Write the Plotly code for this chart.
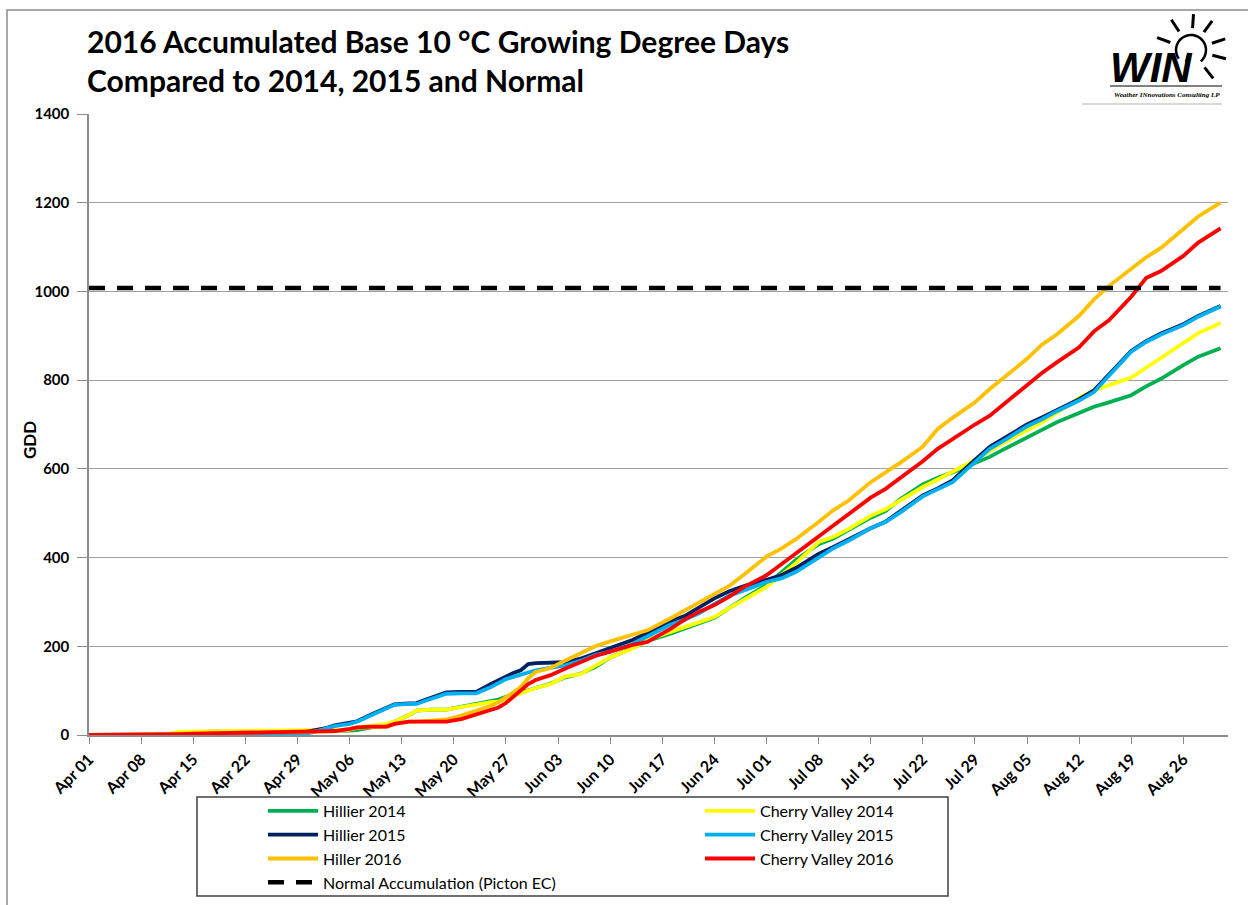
import math
import pandas as pd
import plotly.graph_objects as go

# ---------------- data ----------------
START = "2016-04-01"
END = "2016-09-01"

# days after Apr 01 at which the curves were read
day_offset = [0, 10, 12, 14, 17, 20, 24, 28,
              30, 32, 33, 35, 36, 38, 40, 41, 43, 44,
              45, 46, 48, 50, 52, 54, 55, 56, 57, 58,
              59, 60, 62, 64, 66, 68, 70, 73, 75, 78,
              80, 82, 84, 86, 88, 91, 93, 95, 98, 100,
              102, 105, 107, 109, 112, 114, 116, 119, 121, 123,
              126, 128, 130, 133, 135, 137, 140, 142, 144, 147,
              149, 152]

hillier_2014 = [0, 0, 5, 7, 8, 8, 8, 9,
                9, 9, 9, 10, 11, 18, 24, 30, 45, 55,
                57, 57, 57, 64, 71, 78, 80, 86, 92, 96,
                101, 106, 116, 130, 138, 153, 175, 196, 212, 228,
                240, 252, 264, 286, 308, 338, 367, 395, 430, 443,
                462, 490, 505, 532, 565, 580, 592, 612, 627, 645,
                672, 688, 705, 726, 740, 750, 766, 786, 803, 834,
                853, 872]

cherry_valley_2014 = [0, 0, 7, 8, 8, 9, 10, 10,
                      10, 10, 10, 12, 17, 22, 25, 30, 45, 55,
                      57, 57, 57, 63, 70, 74, 75, 80, 88, 94,
                      100, 106, 115, 132, 137, 155, 175, 195, 214, 232,
                      244, 254, 266, 286, 305, 334, 360, 388, 435, 447,
                      464, 494, 509, 530, 559, 576, 593, 620, 640, 660,
                      687, 705, 726, 760, 777, 788, 806, 828, 851, 883,
                      906, 929]

hillier_2015 = [0, 0, 0, 0, 0, 0, 0, 2,
                10, 16, 22, 27, 31, 47, 62, 69, 71, 72,
                78, 84, 96, 97, 97, 115, 124, 133, 140, 146,
                160, 162, 162, 164, 172, 184, 195, 214, 230, 256,
                268, 288, 308, 324, 336, 350, 360, 377, 408, 424,
                441, 466, 481, 504, 540, 556, 574, 620, 650, 670,
                700, 716, 733, 757, 777, 812, 866, 888, 905, 926,
                945, 967]

cherry_valley_2015 = [0, 0, 0, 0, 0, 0, 0, 0,
                      6, 16, 20, 25, 30, 45, 60, 68, 70, 70,
                      76, 82, 93, 94, 94, 108, 117, 126, 131, 135,
                      141, 146, 152, 157, 167, 180, 188, 205, 222, 248,
                      260, 275, 295, 314, 326, 345, 353, 368, 400, 421,
                      438, 466, 480, 502, 538, 553, 570, 615, 645, 665,
                      696, 712, 730, 754, 773, 810, 864, 886, 903, 924,
                      943, 966]

hiller_2016 = [0, 0, 1, 2, 4, 6, 7, 7,
               7, 8, 8, 12, 16, 18, 19, 25, 30, 30,
               31, 32, 35, 44, 54, 66, 74, 84, 96, 108,
               128, 142, 151, 168, 184, 200, 211, 226, 236, 262,
               280, 300, 316, 336, 362, 402, 420, 442, 480, 507,
               528, 570, 592, 614, 650, 690, 715, 750, 780, 808,
               848, 880, 903, 945, 982, 1012, 1052, 1077, 1098, 1139,
               1169, 1200]

cherry_valley_2016 = [0, 0, 2, 3, 4, 5, 7, 8,
                      8, 8, 9, 14, 17, 19, 19, 25, 30, 30,
                      30, 30, 30, 36, 46, 57, 62, 72, 86, 102,
                      115, 124, 135, 150, 165, 178, 188, 203, 210, 238,
                      260, 278, 293, 312, 334, 360, 385, 410, 450, 473,
                      498, 535, 555, 580, 617, 645, 668, 700, 720, 748,
                      788, 816, 840, 874, 910, 935, 988, 1030, 1046, 1080,
                      1110, 1142]

normal_day_offset = [0, 152]
normal_gdd = [1008, 1008]

series_names = ["Hillier 2014", "Cherry Valley 2014", "Hillier 2015",
                "Cherry Valley 2015", "Hiller 2016", "Cherry Valley 2016"]
series_values = [hillier_2014, cherry_valley_2014, hillier_2015,
                 cherry_valley_2015, hiller_2016, cherry_valley_2016]
series_colors = ["#00B050", "#FFFF00", "#002060", "#00B0F0", "#FFC000", "#FF0000"]

for v in series_values:
    assert len(v) == len(day_offset)

dates = pd.Timestamp(START) + pd.to_timedelta(day_offset, unit="D")
normal_dates = pd.Timestamp(START) + pd.to_timedelta(normal_day_offset, unit="D")

# ---------------- geometry ----------------
W, H = 1248, 905
L, R, T, B = 89, 20, 114, 170
PW, PH = W - L - R, H - T - B


def px(x):
    return (x - L) / PW


def py(y):
    return (H - B - y) / PH


FONT = "Lato"
GRAY = "#8C8C8C"

fig = go.Figure()
for name, vals, col in zip(series_names, series_values, series_colors):
    fig.add_trace(go.Scatter(x=dates, y=vals, name=name, mode="lines",
                             line=dict(color=col, width=3.8)))
fig.add_trace(go.Scatter(x=normal_dates, y=normal_gdd,
                         name="Normal Accumulation (Picton EC)", mode="lines",
                         line=dict(color="black", width=4.5, dash="16px,12px")))

shapes = []
# outer chart border
shapes.append(dict(type="rect", xref="paper", yref="paper",
                   x0=px(7), x1=px(1262), y0=py(10), y1=py(920),
                   line=dict(color=GRAY, width=1.5), fillcolor="rgba(0,0,0,0)", layer="below"))
# legend frame
shapes.append(dict(type="rect", xref="paper", yref="paper",
                   x0=px(197), x1=px(948), y0=py(797), y1=py(896),
                   line=dict(color="#404040", width=1.5), fillcolor="rgba(0,0,0,0)"))

# logo decoration
cx, cy, rr = 1191, 50, 15
pts = []
for k in range(0, 25):
    a = math.radians(215 - k * 11)
    pts.append((cx + rr * math.cos(a), cy - rr * math.sin(a)))
path = "M" + " L".join(f"{px(x):.5f},{py(y):.5f}" for x, y in pts)
shapes.append(dict(type="path", xref="paper", yref="paper", path=path,
                   line=dict(color="black", width=2.5)))
for ang in [160, 123, 86, 54, 18, -14, -52]:
    a = math.radians(ang)
    x0, y0 = cx + 22 * math.cos(a), cy - 22 * math.sin(a)
    x1, y1 = cx + 36 * math.cos(a), cy - 36 * math.sin(a)
    shapes.append(dict(type="line", xref="paper", yref="paper",
                       x0=px(x0), y0=py(y0), x1=px(x1), y1=py(y1),
                       line=dict(color="black", width=3)))
shapes.append(dict(type="line", xref="paper", yref="paper",
                   x0=px(1186), y0=py(62), x1=px(cx - 2), y1=py(cy + 3),
                   line=dict(color="black", width=2.5)))
shapes.append(dict(type="line", xref="paper", yref="paper",
                   x0=px(1110), y0=py(86), x1=px(1222), y1=py(86),
                   line=dict(color="black", width=1)))
shapes.append(dict(type="line", xref="paper", yref="paper",
                   x0=px(1082), y0=py(104), x1=px(1222), y1=py(104),
                   line=dict(color="#B0B0B0", width=1)))

annotations = [
    dict(text="<b><i>WIN</i></b>", xref="paper", yref="paper",
         x=px(1108), y=py(68), xanchor="left", yanchor="middle", showarrow=False,
         font=dict(family="Liberation Sans", size=42, color="black")),
    dict(text="<b><i>Weather INnovations Consulting LP</i></b>", xref="paper", yref="paper",
         x=px(1112), y=py(95), xanchor="left", yanchor="middle", showarrow=False,
         font=dict(family="Liberation Sans Narrow", size=7, color="black")),
    dict(text="<b>GDD</b>", xref="paper", yref="paper", textangle=-90,
         x=px(29), y=py(440), xanchor="center", yanchor="middle", showarrow=False,
         font=dict(family=FONT, size=17, color="black")),
]

fig.update_layout(
    width=W, height=H,
    margin=dict(l=L, r=R, t=T, b=B, autoexpand=False),
    paper_bgcolor="white", plot_bgcolor="white",
    font=dict(family=FONT, color="black"),
    title=dict(text="<b>2016 Accumulated Base 10 °C Growing Degree Days<br>Compared to 2014, 2015 and Normal</b>",
               x=87 / W, xanchor="left", xref="container",
               y=1 - 53 / H, yanchor="top", yref="container",
               font=dict(family=FONT, size=30, color="black")),
    xaxis=dict(type="date", range=[START, END], tickformat="%b %d",
               tick0=START, dtick=7 * 86400000, tickangle=-45,
               tickfont=dict(family=FONT, size=16, color="black", weight="bold"),
               ticks="outside", ticklen=7, tickcolor=GRAY, tickwidth=1.3,
               showline=True, linecolor=GRAY, linewidth=1.5,
               showgrid=False, zeroline=False, automargin=False),
    yaxis=dict(range=[0, 1400], dtick=200,
               tickfont=dict(family=FONT, size=15, color="black", weight="bold"),
               ticks="outside", ticklen=10, tickcolor=GRAY, tickwidth=1.3,
               ticklabelstandoff=5,
               showline=True, linecolor=GRAY, linewidth=1.5,
               showgrid=True, gridcolor="#A0A0A0", gridwidth=1.3, zeroline=False,
               automargin=False),
    legend=dict(orientation="h", x=px(263), xanchor="left", y=py(794), yanchor="top",
                font=dict(family=FONT, size=16, color="black"),
                itemwidth=50, entrywidth=372, entrywidthmode="pixels",
                bgcolor="rgba(0,0,0,0)", borderwidth=0, traceorder="normal"),
    shapes=shapes,
    annotations=annotations,
    showlegend=True,
)

fig.write_html("out.html", config={"displayModeBar": False},
               post_script="document.body.style.margin='0px';document.body.style.padding='0px';")
